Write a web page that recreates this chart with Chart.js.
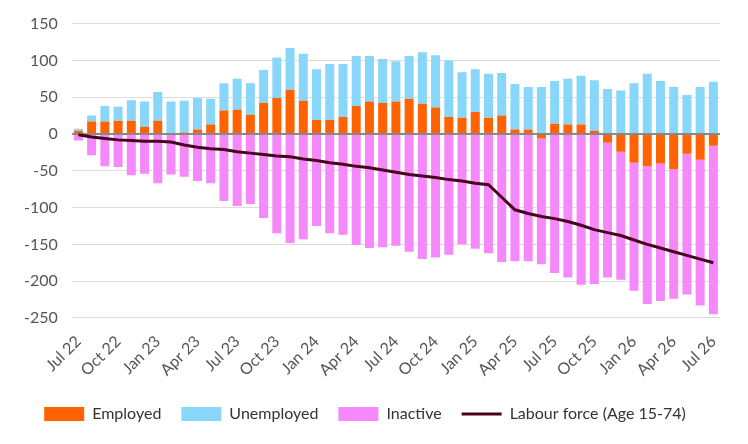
<!DOCTYPE html>
<html><head><meta charset="utf-8">
<script src="https://cdn.jsdelivr.net/npm/chart.js@4"></script>
<style>html,body{margin:0;padding:0;background:#fff}#w{width:748px;height:444px}</style>
</head><body><div id="w"><canvas id="c"></canvas></div>
<script>
const months=['Jan','Feb','Mar','Apr','May','Jun','Jul','Aug','Sep','Oct','Nov','Dec'];
const labels=[];for(let i=0;i<49;i++){const m=(6+i)%12,y=22+Math.floor((6+i)/12);labels.push(months[m]+' '+y);}
const employed=[4.5,17,17,18,18,10,18,0,2,6,13,32,33,26,42,49,60,45,19,19,23,38,44,42,44,48,41,36,23,22,30,22,25,6,6,-6,14,13,13,4.5,-12,-24,-39,-44,-40,-48,-27,-35,-16];
const total=[7,25,38,37,46,44,57,44,45,49,48,69,75,69,87,104,117,109,88,95,95,106,106,102,99,106,111,107,100,84,88,82,83,68,64,64,72,75,79,73,61,59,69,82,72,64,53,64,71];
const unemployed=total.map((t,i)=>employed[i]>0?t-employed[i]:t);
const inactive=[-9,-29,-44,-45,-56,-54,-67,-55,-58,-64,-67,-91,-98,-95,-114,-135,-148,-143,-125,-135,-137,-151,-155,-154,-152,-160,-170,-168,-164,-150,-156,-162,-174,-173,-173,-171,-189,-195,-205,-204,-183,-174,-174,-187,-187,-176,-191,-198,-229];
const labour=[-1,-4,-6,-8,-9,-10,-10,-11,-15,-18,-20,-21,-24,-26,-28,-30,-31,-34,-36,-39,-41,-44,-46,-49,-52,-55,-57,-59,-62,-64,-67,-69,-86,-103,-108,-112,-115,-119,-124,-130,-134,-138,-144,-150,-155,-160,-165,-170,-175];
const F='Lato, "Noto Sans", sans-serif';
new Chart(document.getElementById('c'),{
 data:{labels,datasets:[
  {type:'line',label:'Labour force (Age 15-74)',data:labour,borderColor:'#4a0020',backgroundColor:'#4a0020',borderWidth:3,pointRadius:0,tension:0,order:0,pointStyle:'line'},
  {type:'bar',label:'Employed',data:employed,backgroundColor:'#ff6200',stack:'s',barPercentage:0.68,categoryPercentage:1,order:1,pointStyle:'rect'},
  {type:'bar',label:'Unemployed',data:unemployed,backgroundColor:'#89d6fb',stack:'s',barPercentage:0.68,categoryPercentage:1,order:1,pointStyle:'rect'},
  {type:'bar',label:'Inactive',data:inactive,backgroundColor:'#f589fb',stack:'s',barPercentage:0.68,categoryPercentage:1,order:1,pointStyle:'rect'}
 ]},
 options:{responsive:true,maintainAspectRatio:false,animation:false,
  layout:{padding:{left:10,right:28,top:15,bottom:12}},
  plugins:{tooltip:{enabled:false},legend:{position:'bottom',
    labels:{usePointStyle:true,pointStyleWidth:40,boxHeight:14,font:{family:F,size:16},color:'#333',padding:20,
      sort:(a,b)=>(a.datasetIndex===0)-(b.datasetIndex===0)}}},
  scales:{
   x:{stacked:true,grid:{display:false},border:{display:false},
      ticks:{autoSkip:false,maxRotation:45,minRotation:45,color:'#555',padding:6,font:{family:F,size:16},callback:(v,i)=>i%3===0?labels[i]:''}},
   y:{stacked:true,min:-250,max:150,border:{display:false},
      grid:{color:c=>c.tick.value===0?'#888':'#ddd',lineWidth:c=>c.tick.value===0?2:1,drawTicks:false},
      ticks:{stepSize:50,color:'#555',padding:14,font:{family:F,size:16}}}
  }}
});
</script></body></html>
